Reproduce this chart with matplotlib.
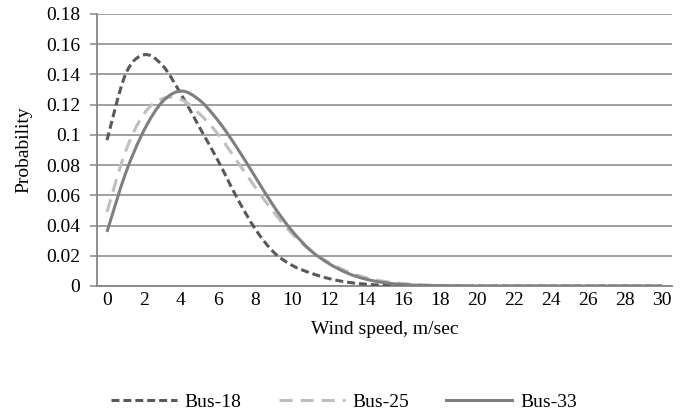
import numpy as np
import matplotlib
matplotlib.use("Agg")
import matplotlib.pyplot as plt
from matplotlib.path import Path
from matplotlib.patches import PathPatch
from matplotlib.lines import Line2D

plt.rcParams['font.family'] = ['Liberation Serif', 'DejaVu Serif']

# wind speed categories (m/sec)
wind_speed = list(range(31))

# probabilities
bus_18 = [0.0965, 0.140, 0.153, 0.146, 0.127, 0.105, 0.083, 0.059, 0.038, 0.0225,
          0.0137, 0.0086, 0.0049, 0.0025, 0.0012, 0.0005, 0.0002, 0.0001, 0, 0,
          0, 0, 0, 0, 0, 0, 0, 0, 0, 0, 0]
bus_25 = [0.049, 0.089, 0.114, 0.124, 0.1235, 0.114, 0.1005, 0.0832, 0.0656, 0.049,
          0.0347, 0.0236, 0.0155, 0.0095, 0.0055, 0.003, 0.0016, 0.0008, 0.0004, 0.0002,
          0.0001, 0, 0, 0, 0, 0, 0, 0, 0, 0, 0]
bus_33 = [0.0358, 0.0744, 0.103, 0.122, 0.129, 0.123, 0.1095, 0.092, 0.0725, 0.053,
          0.0365, 0.0236, 0.0148, 0.0085, 0.0045, 0.0022, 0.001, 0.0004, 0.0002, 0.0001,
          0, 0, 0, 0, 0, 0, 0, 0, 0, 0, 0]


def smooth_path(x, y):
    # Excel-style smoothed line: cubic bezier segments through the data points
    p = np.column_stack([x, y]).astype(float)
    verts = [p[0]]
    codes = [Path.MOVETO]
    n = len(p)
    for i in range(n - 1):
        p0 = p[max(i - 1, 0)]
        p1 = p[i]
        p2 = p[i + 1]
        p3 = p[min(i + 2, n - 1)]
        verts += [p1 + (p2 - p0) / 6, p2 - (p3 - p1) / 6, p2]
        codes += [Path.CURVE4] * 3
    return Path(verts, codes)


fig = plt.figure(figsize=(6.81, 4.2), dpi=100)
ax = fig.add_axes([97 / 681, 1 - 286 / 420, (672 - 97) / 681, (286 - 14) / 420])

lw = 2.2
series = [
    (bus_18, "#595959", (0, (2.6, 1.3)), "Bus-18"),
    (bus_25, "#bfbfbf", (0, (4.3, 2.6)), "Bus-25"),
    (bus_33, "#7f7f7f", "-", "Bus-33"),
]
handles = []
for vals, col, ls, name in series:
    ax.add_patch(PathPatch(smooth_path(wind_speed, vals), fill=False, edgecolor=col,
                           lw=lw, linestyle=ls, capstyle="butt", zorder=3))
    handles.append(Line2D([], [], color=col, lw=lw, linestyle=ls, label=name))

ax.set_xlim(-0.54, 30.54)
ax.set_ylim(0, 0.18)
ax.set_yticks(np.arange(0, 0.181, 0.02))
ax.set_yticklabels(["0", "0.02", "0.04", "0.06", "0.08", "0.1", "0.12", "0.14", "0.16", "0.18"])
ax.set_xticks(wind_speed[::2])
ax.grid(axis="y", color="#868686", lw=1.1)
ax.set_axisbelow(True)

for s in ["top", "right"]:
    ax.spines[s].set_visible(False)
for s in ["left", "bottom"]:
    ax.spines[s].set_color("#868686")
    ax.spines[s].set_linewidth(1.3)

ax.tick_params(axis="x", length=0, pad=4, labelsize=14)
ax.tick_params(axis="y", length=5, color="#868686", width=1.1, pad=7, labelsize=14)

ax.set_xlabel("Wind speed, m/sec", fontsize=14, labelpad=9)
ax.set_ylabel("Probability", fontsize=14, labelpad=10)

fig.legend(handles=handles, loc="center", bbox_to_anchor=(0.505, 1 - 402 / 420), ncol=3,
           frameon=False, fontsize=14, handlelength=3.4, columnspacing=1.9, handletextpad=0.4)

plt.savefig("out.png", dpi=100)
